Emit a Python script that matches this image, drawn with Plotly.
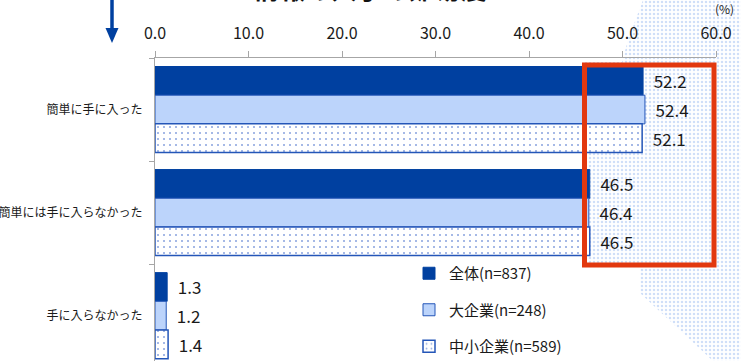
import plotly.graph_objects as go

# Answers to the survey question and the share (%) of each respondent group
categories = ["簡単に手に入った", "簡単には手に入らなかった", "手に入らなかった"]
series_names = ["全体(n=837)", "大企業(n=248)", "中小企業(n=589)"]
all_firms = [52.2, 46.5, 1.3]
large_firms = [52.4, 46.4, 1.2]
sme_firms = [52.1, 46.5, 1.4]
x_ticks = [0, 10, 20, 30, 40, 50, 60]

W, H = 741, 361
FONT = "Noto Sans CJK JP"
NAVY = "#0040a0"
LIGHT = "#bcd4fb"
EDGE = "#2456b8"
DOT_BG = "#9fbdf0"

fig = go.Figure()

# Decorative dotted backdrop on the right side (figure pixel coordinates on hidden axes)
backdrop_x = [643, 628, 622, 622, 640, 640, 713, 741, 741, 643]
backdrop_y = [0, 40, 62, 268, 268, 293, 361, 361, 0, 0]
box_x = [583, 716, 716, 583, 583]
box_y = [62, 62, 268, 268, 62]
for px, py in ((backdrop_x, backdrop_y), (box_x, box_y)):
    fig.add_trace(go.Scatter(
        x=px, y=py, mode="lines", fill="toself",
        line=dict(width=0), fillcolor="white",
        fillpattern=dict(shape=".", size=4, solidity=0.3, fgcolor=DOT_BG, bgcolor="white"),
        xaxis="x", yaxis="y", hoverinfo="skip", showlegend=False,
    ))

label_tpl = "\u00a0\u00a0%{x:.1f}"
common = dict(orientation="h", xaxis="x2", yaxis="y2", texttemplate=label_tpl,
              textposition="outside", cliponaxis=False, constraintext="none",
              textfont=dict(family=FONT, size=17, color="#1a1a1a"), hoverinfo="skip")

fig.add_trace(go.Bar(
    name=series_names[0], y=categories, x=all_firms, legendgroup="a",
    marker=dict(color=NAVY, line=dict(color=NAVY, width=1)), **common))
fig.add_trace(go.Bar(
    name=series_names[1], y=categories, x=large_firms, legendgroup="b",
    marker=dict(color=LIGHT, line=dict(color=EDGE, width=1)), **common))
fig.add_trace(go.Bar(
    name=series_names[2], y=categories, x=sme_firms, legendgroup="c",
    marker=dict(color="white", line=dict(color=EDGE, width=1.5),
                pattern=dict(shape=".", size=6, solidity=0.1, fgcolor="#1f4fc0", bgcolor="white")),
    **common))

plot_top = 58
fig.update_layout(
    width=W, height=H,
    margin=dict(l=0, r=0, t=0, b=0, pad=0, autoexpand=False),
    paper_bgcolor="white", plot_bgcolor="rgba(0,0,0,0)",
    barmode="group", bargap=0.165, bargroupgap=0,
    font=dict(family=FONT, color="#1a1a1a"),
    xaxis=dict(domain=[0, 1], range=[0, W], visible=False, fixedrange=True, automargin=False),
    yaxis=dict(domain=[0, 1], range=[H, 0], visible=False, fixedrange=True, automargin=False),
    xaxis2=dict(domain=[155 / W, 716 / W], range=[0, 60], anchor="y2", side="top",
                tickvals=x_ticks, tickformat=".1f", ticks="outside", ticklen=6,
                tickcolor="#a6a6a6", showline=True, linecolor="#a6a6a6", linewidth=1,
                showgrid=False, zeroline=False, automargin=False, ticklabelstandoff=6,
                tickfont=dict(family=FONT, size=16, color="#1a1a1a")),
    yaxis2=dict(domain=[0, (H - plot_top) / H], anchor="x2", type="category",
                categoryorder="array", categoryarray=categories, automargin=False,
                range=[2.44, -0.5], ticks="outside", ticklen=5, tickson="boundaries",
                tickcolor="#a6a6a6", showline=True, linecolor="#a6a6a6", linewidth=1,
                showgrid=False, ticklabelstandoff=9,
                tickfont=dict(family=FONT, size=12, color="#1a1a1a")),
    legend=dict(x=409 / W, y=1 - 257 / H, xanchor="left", yanchor="top",
                font=dict(family=FONT, size=15, color="#1a1a1a"),
                bgcolor="rgba(0,0,0,0)", tracegroupgap=14, traceorder="grouped"),
    showlegend=True,
)

# Highlight frame around the first two answer groups
fig.add_shape(type="rect", xref="x", yref="y", x0=584.5, x1=714, y0=65, y1=265,
              line=dict(color="#e2380f", width=5), fillcolor="rgba(0,0,0,0)", layer="above")

# Down arrow at the top left
fig.add_shape(type="line", xref="x", yref="y", x0=112, x1=112, y0=0, y1=30,
              line=dict(color=NAVY, width=3.5), layer="above")
fig.add_shape(type="path", xref="x", yref="y", path="M 105.5 28 L 118.5 28 L 112 43 Z",
              fillcolor=NAVY, line=dict(width=0), layer="above")

# Chart heading (runs off the top edge) and unit
fig.add_annotation(x=370, y=8, xref="x", yref="y", text="<b>情報の入手の難易度</b>",
                   showarrow=False, xanchor="center", yanchor="bottom",
                   font=dict(family=FONT, size=26, color="#111111"))
fig.add_annotation(x=736, y=8, xref="x", yref="y", text="(%)", showarrow=False,
                   xanchor="right", yanchor="middle",
                   font=dict(family=FONT, size=12, color="#1a1a1a"))

fig.write_html("out.html")
